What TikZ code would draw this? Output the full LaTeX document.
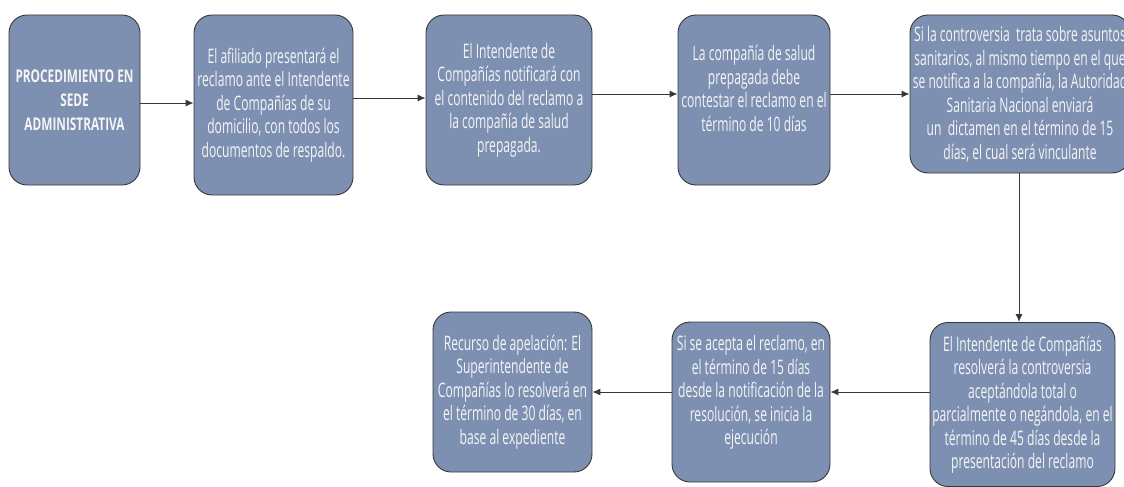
\documentclass[tikz,border=0pt]{standalone}
\usepackage{fontspec}
\setmainfont{Open Sans}[FakeStretch=0.605]
\newfontfamily\hdfont{Open Sans}[FakeStretch=0.675]
\usetikzlibrary{arrows.meta}
\definecolor{boxfill}{RGB}{125,144,177}
\definecolor{boxline}{RGB}{55,55,55}
\definecolor{txt}{RGB}{245,245,245}
\definecolor{conn}{RGB}{55,55,55}
\tikzset{
  stepbox/.style={draw=boxline, line width=0.9pt, fill=boxfill, rounded corners=18pt,
    text=txt, align=center, inner sep=0pt, font=\fontsize{20}{23.5}\selectfont},
  conn/.style={draw=conn, line width=1pt, -{Latex[length=8pt,width=7pt]}}
}
\begin{document}
\begin{tikzpicture}[x=1pt,y=-1pt]
\useasboundingbox (0,0) rectangle (1124,487);
\clip (0,0) rectangle (1124,487);
\node[stepbox, minimum width=131pt, minimum height=170pt, font=\hdfont\bfseries\fontsize{17.5}{24}\selectfont] (b1) at (74.5,100)
  {PROCEDIMIENTO EN\\ SEDE\\ ADMINISTRATIVA};
\node[stepbox, minimum width=159pt, minimum height=180pt] (b2) at (273.5,105)
  {El afiliado presentará el\\ reclamo ante el Intendente\\ de Compañías de su\\ domicilio, con todos los\\ documentos de respaldo.};
\node[stepbox, minimum width=166pt, minimum height=170pt] (b3) at (509,100)
  {El Intendente de\\ Compañías notificará con\\ el contenido del reclamo a\\ la compañía de salud\\ prepagada.};
\node[stepbox, minimum width=152pt, minimum height=170pt] (b4) at (754,100)
  {La compañía de salud\\ prepagada debe\\ contestar el reclamo en el\\ término de 10 días\\ \mbox{}};
\node[stepbox, minimum width=220pt, minimum height=158pt] (b5) at (1020,94)
  {Si la controversia \ trata sobre asuntos\\ sanitarios, al mismo tiempo en el que\\ se notifica a la compañía, la Autoridad\\ Sanitaria Nacional enviará\\ un \ dictamen en el término de 15\\ días, el cual será vinculante};
\node[stepbox, minimum width=185pt, minimum height=164pt] (b6) at (1022.5,404.5)
  {El Intendente de Compañías\\ resolverá la controversia\\ aceptándola total o\\ parcialmente o negándola, en el\\ término de 45 días desde la\\ presentación del reclamo};
\node[stepbox, minimum width=158pt, minimum height=160pt] (b7) at (751,402)
  {Si se acepta el reclamo, en\\ el término de 15 días\\ desde la notificación de la\\ resolución, se inicia la\\ ejecución\\ \mbox{}};
\node[stepbox, minimum width=159pt, minimum height=160pt] (b8) at (512.5,392)
  {Recurso de apelación: El\\ Superintendente de\\ Compañías lo resolverá en\\ el término de 30 días, en\\ base al expediente};
\draw[conn] (b1.east |- 0,103) -- (b2.west |- 0,103);
\draw[conn] (b2.east |- 0,98) -- (b3.west |- 0,98);
\draw[conn] (b3.east |- 0,94) -- (b4.west |- 0,94);
\draw[conn] (b4.east |- 0,94) -- (b5.west |- 0,94);
\draw[conn] (b5.south -| 1019,0) -- (b6.north -| 1019,0);
\draw[conn] (b6.west |- 0,392) -- (b7.east |- 0,392);
\draw[conn] (b7.west |- 0,392) -- (b8.east |- 0,392);
\end{tikzpicture}
\end{document}
